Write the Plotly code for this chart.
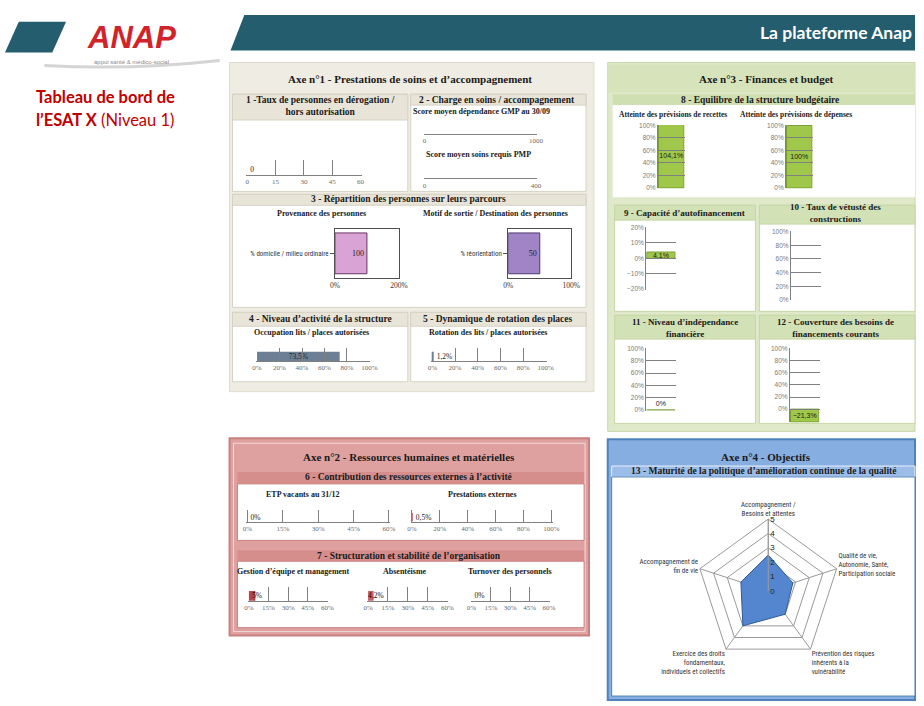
import plotly.graph_objects as go

# ---------------------------------------------------------------- data
derogation_ticks = [0, 15, 30, 45, 60]
derogation_values = [0]

gmp_ticks = [0, 1000]
gmp_values = [None]
pmp_ticks = [0, 400]
pmp_values = [None]

provenance_categories = ["% domicile / milieu ordinaire"]
provenance_values = [100]
provenance_ticks = [0, 200]
sortie_categories = ["% réorientation"]
sortie_values = [50]
sortie_ticks = [0, 100]

pct_ticks_100 = [0, 20, 40, 60, 80, 100]
occupation_values = [73.5]
rotation_values = [1.2]

recettes_values = [104.1]
depenses_values = [100]
caf_ticks = [-20, -10, 0, 10, 20]
caf_values = [4.1]
vetuste_values = [None]
independance_values = [0]
couverture_values = [-21.3]

pct_ticks_60 = [0, 15, 30, 45, 60]
etp_vacants_values = [0]
prestations_ext_values = [0.5]
gestion_equipe_values = [5]
absenteisme_values = [4.2]
turnover_values = [0]

radar_categories = [
    "Accompagnement /<br>Besoins et attentes",
    "Qualité de vie,<br>Autonomie, Santé,<br>Participation sociale",
    "Prévention des risques<br>inhérents à la<br>vulnérabilité",
    "Exercice des droits<br>fondamentaux,<br>individuels et collectifs",
    "Accompagnement de<br>fin de vie",
]
radar_values = [2.5, 1.8, 2, 3, 2]
radar_ticks = [0, 1, 2, 3, 4, 5]

# ---------------------------------------------------------------- helpers
W, H = 924, 706
SERIF = "Liberation Serif, DejaVu Serif, serif"
SANS = "Liberation Sans, Arial, sans-serif"
NARROW = "Liberation Sans Narrow, Roboto Condensed, Liberation Sans, sans-serif"
CAL = "Lato, Open Sans, sans-serif"
GRID = "#808080"
TICKFONT = dict(family=SERIF, size=7, color="#6a6a6a")


def X(px):
    return px / W


def Y(py):
    return 1 - py / H


def fr(v, pct=True):
    if v is None:
        return ""
    s = f"{v:g}".replace(".", ",").replace("-", "−")
    return s + ("%" if pct else "")


def pct_labels(ticks):
    return [fr(t) for t in ticks]


def padded(lo, hi):
    e = (hi - lo) * 0.008
    return [lo - e, hi + e]


fig = go.Figure()
axes = {}
count = [0]


def new_axes(x0, x1, ytop, ybot, xa, ya):
    count[0] += 1
    n = count[0]
    sx = "" if n == 1 else str(n)
    xa.update(domain=[X(x0), X(x1)], anchor="y" + sx, fixedrange=True)
    ya.update(domain=[Y(ybot), Y(ytop)], anchor="x" + sx, fixedrange=True)
    axes["xaxis" + sx] = xa
    axes["yaxis" + sx] = ya
    return "x" + sx, "y" + sx


def hgauge(box, values, ticks, ticktext, color, texts, textpos="outside",
           anchor="middle", textcolor="#1a1a1a"):
    x0, x1, yt, yb = box
    xr, yr = new_axes(
        x0, x1, yt, yb,
        dict(range=padded(ticks[0], ticks[-1]), tickmode="array", tickvals=ticks,
             ticktext=ticktext, ticks="inside", ticklen=yb - yt, tickwidth=1,
             tickcolor=GRID, showline=True, linecolor=GRID, linewidth=1,
             showgrid=False, zeroline=False, tickfont=TICKFONT),
        dict(range=[0, 1], visible=False),
    )
    fig.add_trace(go.Bar(
        x=values, y=[0.36] * len(values), width=0.72, orientation="h",
        marker=dict(color=color, line=dict(width=0)),
        text=texts, textposition=textpos, insidetextanchor=anchor,
        textangle=0, constraintext="none", cliponaxis=False,
        textfont=dict(family=SERIF, size=7.5, color=textcolor),
        xaxis=xr, yaxis=yr, showlegend=False, hoverinfo="skip"))


def vchart(box, values, ticks, rng, texts, textpos="inside", anchor="middle"):
    x0, x1, yt, yb = box
    xr, yr = new_axes(
        x0, x1, yt, yb,
        dict(range=[-0.5, 0.5], visible=False),
        dict(range=padded(*rng), tickmode="array", tickvals=ticks,
             ticktext=pct_labels(ticks), ticks="inside", ticklen=x1 - x0,
             tickwidth=1, tickcolor=GRID, showline=True, linecolor=GRID,
             showgrid=False, zeroline=False,
             tickfont=dict(family=SANS, size=6.5, color="#7a7a7a")),
    )
    fig.add_trace(go.Bar(
        x=[0] * len(values), y=values, width=0.96,
        marker=dict(color="#9fc84a", line=dict(color="#7a9e32", width=1)),
        text=texts, textposition=textpos, insidetextanchor=anchor,
        textangle=0, constraintext="none", cliponaxis=True,
        textfont=dict(family=SANS, size=7, color="#1a1a1a"),
        xaxis=xr, yaxis=yr, showlegend=False, hoverinfo="skip"))


def boxbar(box, cats, values, ticks, color, edge, texts):
    x0, x1, yt, yb = box
    xr, yr = new_axes(
        x0, x1, yt, yb,
        dict(range=[ticks[0], ticks[-1]], tickmode="array", tickvals=ticks,
             ticktext=pct_labels(ticks), ticks="", showline=True, mirror=True,
             linecolor="#505050", showgrid=False, zeroline=False,
             tickfont=dict(family=SERIF, size=7.5, color="#333333")),
        dict(type="category", range=[-0.5, 0.5], showline=True, mirror=True,
             linecolor="#505050", ticks="outside", ticklen=4,
             tickcolor="#505050", showgrid=False,
             tickfont=dict(family=NARROW, size=7, color="#333333")),
    )
    fig.add_trace(go.Bar(
        x=values, y=cats, orientation="h", width=0.84,
        marker=dict(color=color, line=dict(color=edge, width=1)),
        text=texts, textposition="inside", insidetextanchor="end",
        textangle=0, constraintext="none",
        textfont=dict(family=SERIF, size=8, color="#222222"),
        xaxis=xr, yaxis=yr, showlegend=False, hoverinfo="skip"))


# ---------------------------------------------------------------- Axe 1
hgauge((245, 362, 158, 173), derogation_values, derogation_ticks,
       [str(t) for t in derogation_ticks], "#6d7f93",
       [fr(v, False) for v in derogation_values])
hgauge((425, 540, 118, 132), gmp_values, gmp_ticks,
       [str(t) for t in gmp_ticks], "#6d7f93", ["" for v in gmp_values])
hgauge((425, 540, 163, 177), pmp_values, pmp_ticks,
       [str(t) for t in pmp_ticks], "#6d7f93", ["" for v in pmp_values])
boxbar((335, 400, 228, 277), provenance_categories, provenance_values,
       provenance_ticks, "#d9a3d6", "#6b3563",
       [fr(v, False) for v in provenance_values])
boxbar((511, 575, 228, 277), sortie_categories, sortie_values,
       sortie_ticks, "#a184c6", "#4e3a70",
       [fr(v, False) for v in sortie_values])
hgauge((255, 371, 348, 361), occupation_values, pct_ticks_100,
       pct_labels(pct_ticks_100), "#6d7f93", [fr(v) for v in occupation_values],
       textpos="inside", anchor="middle", textcolor="#1c2840")
hgauge((433, 550, 348, 361), rotation_values, pct_ticks_100,
       pct_labels(pct_ticks_100), "#6d7f93", [fr(v) for v in rotation_values])

# ---------------------------------------------------------------- Axe 3
vchart((663, 690, 123, 187), recettes_values, pct_ticks_100, [0, 100],
       [fr(v) for v in recettes_values])
vchart((793, 820, 123, 187), depenses_values, pct_ticks_100, [0, 100],
       [fr(v) for v in depenses_values])
vchart((651, 681, 226, 289), caf_values, caf_ticks, [-20, 20],
       [fr(v) for v in caf_values])
vchart((798, 828, 230, 300), vetuste_values, pct_ticks_100, [0, 100],
       ["" for v in vetuste_values])
vchart((651, 681, 348, 411), independance_values, pct_ticks_100, [0, 100],
       [fr(v) for v in independance_values], textpos="outside")
vchart((797, 827, 348, 423), couverture_values, pct_ticks_100, [-21, 100],
       [fr(v) for v in couverture_values], anchor="end")

# ---------------------------------------------------------------- Axe 2
hgauge((245, 391, 511, 523), etp_vacants_values, pct_ticks_60,
       pct_labels(pct_ticks_60), "#b24a52", [fr(v) for v in etp_vacants_values])
hgauge((412, 556, 511, 523), prestations_ext_values, pct_ticks_100,
       pct_labels(pct_ticks_100), "#b24a52",
       [fr(v) for v in prestations_ext_values])
hgauge((247, 328, 589, 603), gestion_equipe_values, pct_ticks_60,
       pct_labels(pct_ticks_60), "#b0474f",
       [fr(v) for v in gestion_equipe_values], textpos="inside",
       anchor="start", textcolor="#2a0808")
hgauge((368, 450, 589, 603), absenteisme_values, pct_ticks_60,
       pct_labels(pct_ticks_60), "#c4606a",
       [fr(v) for v in absenteisme_values], textpos="inside",
       anchor="start", textcolor="#2a0808")
hgauge((473, 553, 589, 603), turnover_values, pct_ticks_60,
       pct_labels(pct_ticks_60), "#b24a52", [fr(v) for v in turnover_values])

# ---------------------------------------------------------------- Axe 4 radar
fig.add_trace(go.Scatterpolar(
    r=radar_values + radar_values[:1],
    theta=radar_categories + radar_categories[:1],
    mode="lines", fill="toself", fillcolor="#5486cf",
    line=dict(color="#2d5a98", width=1),
    subplot="polar", showlegend=False, hoverinfo="skip"))

# ---------------------------------------------------------------- shapes
shapes = []


def rect(x0, y0, x1, y1, fill, line=None, lw=1):
    shapes.append(dict(type="rect", xref="paper", yref="paper",
                       x0=X(x0), x1=X(x1), y0=Y(y1), y1=Y(y0),
                       fillcolor=fill, layer="below",
                       line=dict(color=line or fill, width=lw if line else 0)))


def poly(points, fill):
    d = "M " + " L ".join(f"{X(a):.5f},{Y(b):.5f}" for a, b in points) + " Z"
    shapes.append(dict(type="path", xref="paper", yref="paper", path=d,
                       fillcolor=fill, line=dict(width=0), layer="below"))


# header
poly([(243, 12), (924, 12), (924, 48), (229, 48)], "#245d6e")
poly([(14, 19), (62, 19), (48, 50), (0, 50)], "#245d6e")
shapes.append(dict(type="path", xref="paper", yref="paper", layer="below",
                   path=f"M {X(40):.5f},{Y(63):.5f} Q {X(128):.5f},{Y(68):.5f} {X(218):.5f},{Y(58):.5f}",
                   line=dict(color="#d4d4d4", width=3)))

# Axe 1
rect(228, 60, 598, 392, "#efece3", "#e0dccd")
for (a, b, c, d, hb) in [(231, 92, 409, 190, 118), (412, 92, 590, 190, 103),
                         (231, 193, 590, 307, 204), (231, 312, 409, 382, 326),
                         (412, 312, 590, 382, 326)]:
    rect(a, b, c, d, "white", "#d6d2c3")
    rect(a, b, c, hb, "#e8e4d8", "#d6d2c3")

# Axe 3
rect(612, 60, 924, 432, "#dfe9c9", "#c7d7a6")
rect(612, 62, 924, 90, "#d6e3bb")
rect(617, 92, 924, 103, "#d0dfb1")
rect(617, 103, 924, 196, "white")
for (a, b, c, d, hb) in [(619, 204, 762, 311, 219), (766, 204, 924, 311, 223),
                         (619, 315, 762, 424, 339), (766, 315, 924, 424, 339)]:
    rect(a, b, c, d, "white", "#c7d7a6")
    rect(a, b, c, hb, "#d3e1b6", "#c7d7a6")

# Axe 2
rect(228, 439, 593, 638, "#dea1a0", "#c98080", 2)
rect(232, 444, 589, 634, "rgba(0,0,0,0)", "#f3dada")
rect(236, 473, 588, 484, "#d68e8d")
rect(236, 485, 588, 542, "white", "#c98080")
rect(236, 552, 588, 563, "#d68e8d")
rect(236, 563, 588, 630, "white", "#c98080")

# Axe 4
rect(612, 440, 924, 703, "#86aee0", "#4f81bd", 2)
rect(616, 467, 924, 478, "#9cbde7", "#e8f0fa")
rect(616, 478, 924, 699, "white", "#4f81bd")

# ---------------------------------------------------------------- texts
annotations = []


def txt(s, px, py, size=9.5, color="#1a1a1a", family=SERIF, xanchor="center"):
    annotations.append(dict(text=s, x=X(px), y=Y(py), xref="paper", yref="paper",
                            xanchor=xanchor, yanchor="middle", showarrow=False,
                            font=dict(family=family, size=size, color=color)))


txt("<b>La plateforme Anap</b>", 923, 30, 17.5, "white", CAL, "right")
txt("<b><i>ANAP</i></b>", 128, 35, 31, "#d2232a", SANS)
txt("appui santé & médico-social", 128, 60, 6, "#8a8a8a", SANS)
txt("<b>Tableau de bord de</b>", 29, 95, 16.5, "#c00000", CAL, "left")
txt("<b>l’ESAT X</b> (Niveau 1)", 29, 118, 16.5, "#c00000", CAL, "left")

txt("<b>Axe n°1 - Prestations de soins et d’accompagnement</b>", 411, 77, 11)
txt("<b>1 -Taux de personnes en dérogation /<br>hors autorisation</b>", 320, 104, 9.5)
txt("<b>2 - Charge en soins / accompagnement</b>", 500, 98, 9.5)
txt("<b>Score moyen dépendance GMP au 30/09</b>", 484, 109, 8)
txt("<b>Score moyen soins requis PMP</b>", 481, 153, 8)
txt("<b>3 - Répartition des personnes sur leurs parcours</b>", 410, 198, 9.5)
txt("<b>Provenance des personnes</b>", 321, 212, 8)
txt("<b>Motif de sortie / Destination des personnes</b>", 498, 212, 8)
txt("<b>4 - Niveau d’activité de la structure</b>", 320, 319, 9.5)
txt("<b>Occupation lits / places autorisées</b>", 251, 332, 8, xanchor="left")
txt("<b>5 - Dynamique de rotation des places</b>", 500, 319, 9.5)
txt("<b>Rotation des lits / places autorisées</b>", 428, 332, 8, xanchor="left")

txt("<b>Axe n°3 - Finances et budget</b>", 773, 77, 11)
txt("<b>8 - Equilibre de la structure budgétaire</b>", 767, 98, 9.5)
txt("<b>Atteinte des prévisions de recettes</b>", 621, 112, 7.5, xanchor="left")
txt("<b>Atteinte des prévisions de dépenses</b>", 744, 112, 7.5, xanchor="left")
txt("<b>9 - Capacité d’autofinancement</b>", 690, 212, 9)
txt("<b>10 - Taux de vétusté des<br>constructions</b>", 843, 212, 9)
txt("<b>11 - Niveau d’indépendance<br>financière</b>", 690, 328, 9)
txt("<b>12 - Couverture des besoins de<br>financements courants</b>", 843, 328, 9)

txt("<b>Axe n°2 - Ressources humaines et matérielles</b>", 410, 458, 11)
txt("<b>6 - Contribution des ressources externes à l’activité</b>", 410, 478, 9.5)
txt("<b>ETP vacants au 31/12</b>", 303, 496, 8)
txt("<b>Prestations externes</b>", 485, 496, 8)
txt("<b>7 - Structuration et stabilité de l’organisation</b>", 410, 558, 9.5)
txt("<b>Gestion d’équipe et management</b>", 293, 573, 8)
txt("<b>Absentéisme</b>", 406, 573, 8)
txt("<b>Turnover des personnels</b>", 513, 573, 8)

txt("<b>Axe n°4 - Objectifs</b>", 773, 458, 11)
txt("<b>13 - Maturité de la politique d’amélioration continue de la qualité</b>", 770, 472, 9.5)

# ---------------------------------------------------------------- layout
fig.update_layout(
    width=W, height=H, margin=dict(l=0, r=0, t=0, b=0),
    paper_bgcolor="white", plot_bgcolor="rgba(0,0,0,0)",
    showlegend=False, shapes=shapes, annotations=annotations,
    font=dict(family=SERIF),
    polar=dict(
        domain=dict(x=[X(702), X(848)], y=[Y(666), Y(520)]),
        bgcolor="rgba(0,0,0,0)", gridshape="linear",
        radialaxis=dict(range=[0, 5], tickvals=radar_ticks, angle=90,
                        tickangle=90, showline=True, linecolor="#9a9a9a",
                        gridcolor="#9a9a9a", ticks="",
                        tickfont=dict(family=SANS, size=8, color="#222222")),
        angularaxis=dict(rotation=90, direction="clockwise",
                         linecolor="#9a9a9a", gridcolor="#9a9a9a", ticks="",
                         tickfont=dict(family=NARROW, size=7, color="#333333")),
    ),
    **axes,
)

fig.write_html("out.html", config={"displayModeBar": False},
               post_script="document.body.style.margin='0';")
